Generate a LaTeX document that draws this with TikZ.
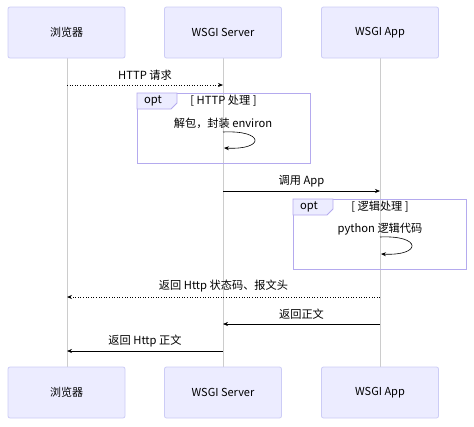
\documentclass[tikz,border=0pt]{standalone}
\usepackage{fontspec}
\setmainfont{Noto Sans CJK SC}
\usetikzlibrary{arrows.meta}

\definecolor{actfill}{HTML}{ECECFF}
\definecolor{actline}{HTML}{CCCCF6}
\definecolor{optline}{HTML}{B4AAEE}
\definecolor{lifegray}{HTML}{CCCCCC}

\tikzset{
  actor/.style={draw=actline, fill=actfill, rounded corners=2pt, line width=0.8pt,
                minimum width=117pt, minimum height=51pt, font=\fontsize{11}{13}\selectfont},
  life/.style={draw=lifegray, line width=1pt},
  msg/.style={-{Stealth[length=5pt,width=4pt]}, line width=0.6pt},
  reply/.style={msg, dotted, line width=0.9pt},
  lbl/.style={font=\fontsize{11.2}{13}\selectfont, inner sep=1pt},
  optbox/.style={draw=optline, line width=0.9pt},
  opttab/.style={draw=optline, fill=actfill, line width=0.9pt},
}

\begin{document}
\begin{tikzpicture}[x=1pt,y=-1pt]
                        \useasboundingbox (0,0) rectangle (474,426);
                        % lifelines
                        \coordinate (l1) at (67,58);  \coordinate (e1) at (67,367);
                        \coordinate (l2) at (223,58); \coordinate (e2) at (223,367);
                        \coordinate (l3) at (380,58); \coordinate (e3) at (380,367);
                        \draw[life] (l1) -- (e1);
                        \draw[life] (l2) -- (e2);
                        \draw[life] (l3) -- (e3);
                        % actors
                        \node[actor] (top1) at (66.5,32.5)  {浏览器};
                        \node[actor] (top2) at (223,32.5)   {WSGI Server};
                        \node[actor] (top3) at (380,32.5)   {WSGI App};
                        \node[actor] (bot1) at (66.5,392.5) {浏览器};
                        \node[actor] (bot2) at (223,392.5)  {WSGI Server};
                        \node[actor] (bot3) at (380,392.5)  {WSGI App};
                        % HTTP request
                        \coordinate (a1) at (67,85);  \coordinate (a2) at (223,85);
                        \draw[reply] (a1) -- (a2) node[lbl, midway, above=3pt] {HTTP 请求};
                        % opt HTTP
                        \draw[optbox] (137,93) rectangle (310,163);
                        \draw[opttab] (137,93) -- (177,93) -- (177,103) -- (171,109) -- (137,109) -- cycle;
                        \node[lbl] (opt1) at (153,101) {opt};
                        \node[lbl] (cond1) at (223.5,101) {[ HTTP 处理 ]};
                        \node[lbl] (self1) at (223,123) {解包，封装 environ};
                        \coordinate (s1a) at (223,132); \coordinate (s1b) at (224,148);
                        \draw[msg] (s1a) .. controls (265,130) and (265,150) .. (s1b);
                        % call app
                        \coordinate (c1) at (223,191); \coordinate (c2) at (380,191);
                        \draw[msg] (c1) -- (c2) node[lbl, midway, above=3pt] {调用 App};
                        % opt logic
                        \draw[optbox] (293,199) rectangle (466,269);
                        \draw[opttab] (293,199) -- (333,199) -- (333,209) -- (327,215) -- (293,215) -- cycle;
                        \node[lbl] (opt2) at (309,207) {opt};
                        \node[lbl] (cond2) at (380,207) {[ 逻辑处理 ]};
                        \node[lbl] (self2) at (380,229) {python 逻辑代码};
                        \coordinate (s2a) at (380,237); \coordinate (s2b) at (381,254);
                        \draw[msg] (s2a) .. controls (422,235) and (422,256) .. (s2b);
                        % replies
                        \coordinate (r1) at (380,297); \coordinate (r2) at (67,297);
                        \draw[reply] (r1) -- (r2) node[lbl, midway, above=3pt] {返回 Http 状态码、报文头};
                        \coordinate (r3) at (380,324); \coordinate (r4) at (223,324);
                        \draw[msg] (r3) -- (r4) node[lbl, midway, above=3pt] {返回正文};
                        \coordinate (r5) at (223,351); \coordinate (r6) at (67,351);
                        \draw[msg] (r5) -- (r6) node[lbl, midway, above=3pt] {返回 Http 正文};
                \end{tikzpicture}
\end{document}
